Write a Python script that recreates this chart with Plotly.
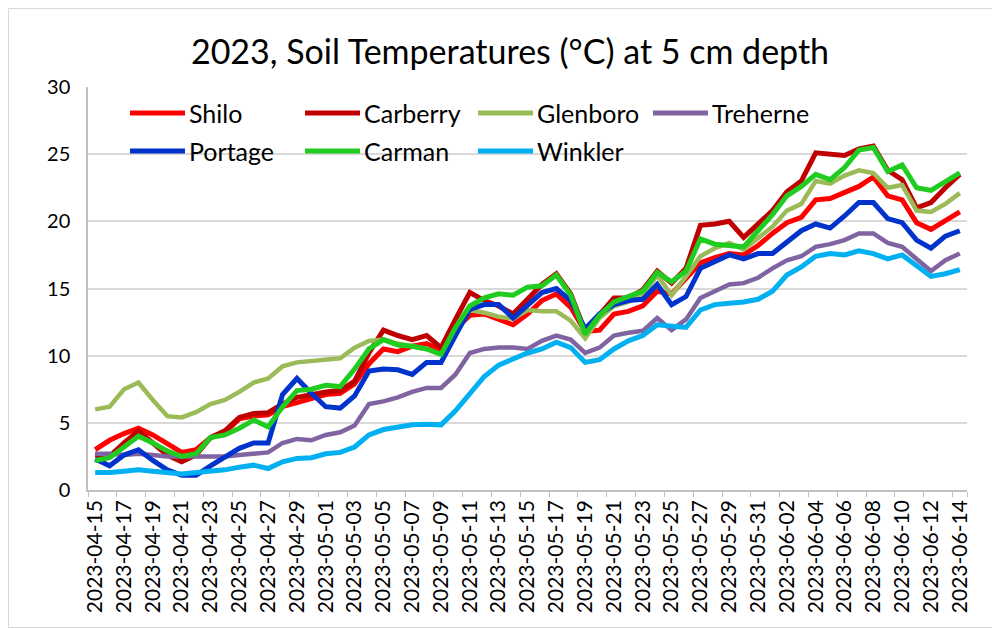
import plotly.graph_objects as go
import pandas as pd

dates = [d.strftime("%Y-%m-%d") for d in pd.date_range("2023-04-15", "2023-06-14", freq="D")]

shilo = [3.0, 3.7, 4.2, 4.6, 4.1, 3.4, 2.8, 3.0, 3.9, 4.3, 5.3, 5.5, 5.6, 6.2, 6.5, 6.8, 7.1, 7.2, 7.9, 9.4,
         10.5, 10.3, 10.7, 10.9, 10.4, 12.0, 13.0, 13.1, 12.7, 12.3, 13.1, 14.1, 14.6, 13.6, 11.8, 11.9, 13.1, 13.3, 13.7, 14.8,
         14.6, 15.7, 16.9, 17.3, 17.6, 17.5, 18.2, 19.1, 19.9, 20.3, 21.6, 21.7, 22.1, 22.6, 23.3, 21.9, 21.6, 19.9, 19.4, 20.1, 20.7]
carberry = [2.6, 2.5, 3.5, 4.4, 3.5, 2.6, 2.1, 2.6, 3.9, 4.4, 5.4, 5.7, 5.75, 6.4, 6.9, 7.1, 7.3, 7.4, 8.1, 10.2,
            11.9, 11.5, 11.2, 11.5, 10.6, 12.7, 14.7, 14.1, 13.7, 13.1, 14.2, 15.3, 16.1, 14.6, 11.8, 13.1, 14.3, 14.3, 14.9, 16.3,
            15.4, 16.5, 19.7, 19.8, 20.0, 18.8, 19.8, 20.8, 22.2, 23.0, 25.1, 25.0, 24.9, 25.4, 25.6, 23.8, 23.1, 21.0, 21.4, 22.5, 23.5]
glenboro = [6.0, 6.2, 7.5, 8.0, 6.7, 5.5, 5.4, 5.8, 6.4, 6.7, 7.3, 8.0, 8.3, 9.2, 9.5, 9.6, 9.7, 9.8, 10.6, 11.1,
            11.2, 10.9, 10.7, 10.5, 10.1, 11.7, 13.4, 13.2, 12.9, 12.75, 13.4, 13.3, 13.3, 12.6, 11.3, 12.8, 13.7, 14.0, 14.5, 16.0,
            14.5, 15.9, 17.4, 18.0, 18.4, 17.9, 18.8, 19.6, 20.8, 21.3, 23.0, 22.8, 23.4, 23.8, 23.6, 22.5, 22.7, 20.8, 20.7, 21.3, 22.1]
treherne = [2.7, 2.7, 2.6, 2.7, 2.6, 2.5, 2.5, 2.5, 2.5, 2.5, 2.6, 2.7, 2.8, 3.5, 3.8, 3.7, 4.1, 4.3, 4.8, 6.4,
            6.6, 6.9, 7.3, 7.6, 7.6, 8.6, 10.2, 10.5, 10.6, 10.6, 10.5, 11.1, 11.5, 11.2, 10.2, 10.6, 11.5, 11.7, 11.85, 12.8,
            11.9, 12.7, 14.3, 14.8, 15.3, 15.4, 15.8, 16.5, 17.1, 17.4, 18.1, 18.3, 18.6, 19.1, 19.1, 18.4, 18.1, 17.2, 16.3, 17.1, 17.6]
portage = [2.3, 1.8, 2.6, 3.0, 2.2, 1.5, 1.1, 1.1, 1.8, 2.5, 3.1, 3.5, 3.5, 7.1, 8.3, 7.2, 6.2, 6.1, 7.0, 8.85,
           9.0, 8.95, 8.6, 9.5, 9.5, 11.5, 13.45, 13.8, 13.8, 12.8, 13.8, 14.7, 15.0, 14.1, 12.0, 13.1, 13.8, 14.1, 14.2, 15.3,
           13.8, 14.4, 16.5, 17.0, 17.5, 17.2, 17.6, 17.6, 18.5, 19.3, 19.8, 19.5, 20.4, 21.4, 21.4, 20.2, 19.9, 18.6, 18.0, 18.9, 19.3]
carman = [2.2, 2.4, 3.2, 4.0, 3.5, 2.9, 2.5, 2.7, 3.9, 4.1, 4.6, 5.2, 4.7, 6.2, 7.4, 7.5, 7.8, 7.7, 9.0, 10.5,
          11.2, 10.8, 10.7, 10.5, 10.1, 12.1, 13.7, 14.3, 14.6, 14.5, 15.1, 15.2, 16.0, 14.5, 11.6, 13.0, 14.0, 14.4, 14.8, 16.2,
          15.5, 16.3, 18.7, 18.3, 18.2, 18.1, 19.3, 20.5, 21.9, 22.6, 23.5, 23.1, 24.0, 25.3, 25.5, 23.7, 24.2, 22.5, 22.3, 23.0, 23.6]
winkler = [1.3, 1.3, 1.4, 1.5, 1.4, 1.3, 1.2, 1.3, 1.4, 1.5, 1.7, 1.85, 1.6, 2.1, 2.35, 2.4, 2.7, 2.8, 3.2, 4.1,
           4.5, 4.7, 4.85, 4.9, 4.85, 5.9, 7.2, 8.45, 9.3, 9.8, 10.2, 10.5, 11.0, 10.6, 9.5, 9.7, 10.5, 11.1, 11.5, 12.3,
           12.2, 12.1, 13.4, 13.8, 13.9, 14.0, 14.2, 14.8, 16.0, 16.6, 17.4, 17.6, 17.5, 17.8, 17.6, 17.2, 17.5, 16.7, 15.9, 16.1, 16.4]

series_names = ["Shilo", "Carberry", "Glenboro", "Treherne", "Portage", "Carman", "Winkler"]
series_values = [shilo, carberry, glenboro, treherne, portage, carman, winkler]
series_colors = ["#FF0000", "#C00000", "#9BBB59", "#8064A2", "#0033CC", "#1FCC1F", "#00B0F0"]
series_widths = [5, 5, 4.5, 4.5, 5, 5, 5]

FONT = "Lato"
OFF = 8                      # page body margin offset
W, H = 1000 - OFF, 629 - OFF  # figure size so page fits the window
# plot-area edges in window pixels
L, R, T, B = 88, 967, 87, 490

fig = go.Figure()
for name, vals, col, wd in zip(series_names, series_values, series_colors, series_widths):
    fig.add_trace(go.Scatter(x=dates, y=vals, mode="lines", name=name,
                             line=dict(color=col, width=wd), showlegend=False))

def px(xp):
    return (xp - L) / (R - L)

def py(yp):
    return (B - yp) / (B - T)

shapes = []
annotations = []
legend_pos = [(130, 113), (305, 113), (478, 113), (653, 113), (130, 151), (305, 151), (478, 151)]
for (x0, y0), name, col in zip(legend_pos, series_names, series_colors):
    shapes.append(dict(type="line", xref="paper", yref="paper", x0=px(x0), x1=px(x0 + 55),
                       y0=py(y0), y1=py(y0), line=dict(color=col, width=5)))
    annotations.append(dict(xref="paper", yref="paper", x=px(x0 + 57), y=py(y0), text=name,
                            showarrow=False, xanchor="left", yanchor="middle",
                            font=dict(family=FONT, size=25, color="#000000")))

# chart border
shapes.append(dict(type="rect", xref="paper", yref="paper", x0=px(OFF + 0.5), x1=px(997.5),
                   y0=py(627.5), y1=py(OFF + 0.5),
                   line=dict(color="#D9D9D9", width=1), layer="below"))

fig.update_layout(
    width=W, height=H,
    margin=dict(l=L - OFF, r=1000 - R, t=T - OFF, b=629 - B),
    paper_bgcolor="white", plot_bgcolor="white",
    title=dict(text="2023, Soil Temperatures (°C) at 5 cm depth", xref="container", yref="container",
               x=(510 - OFF) / W, y=1 - (52 - OFF) / H, xanchor="center", yanchor="middle",
               font=dict(family=FONT, size=34, color="#000000")),
    shapes=shapes, annotations=annotations,
    showlegend=False,
)
fig.update_xaxes(type="category", categoryorder="array", categoryarray=dates,
                 range=[-0.5, len(dates) - 0.5],
                 tickmode="array", tickvals=dates[::2], ticktext=dates[::2],
                 tickson="boundaries", ticks="outside", ticklen=5, tickcolor="#BFBFBF",
                 tickangle=-90, tickfont=dict(family=FONT, size=21, color="#000000"),
                 showgrid=False, showline=True, linecolor="#BFBFBF", linewidth=1.5, zeroline=False)
fig.update_yaxes(range=[0, 30], tickmode="linear", tick0=0, dtick=5,
                 showgrid=True, gridcolor="#D9D9D9", gridwidth=1.5,
                 showline=True, linecolor="#BFBFBF", linewidth=1.5, zeroline=False,
                 ticks="", ticklabelstandoff=12,
                 tickfont=dict(family=FONT, size=20, color="#000000"))

fig.write_html("out.html")
